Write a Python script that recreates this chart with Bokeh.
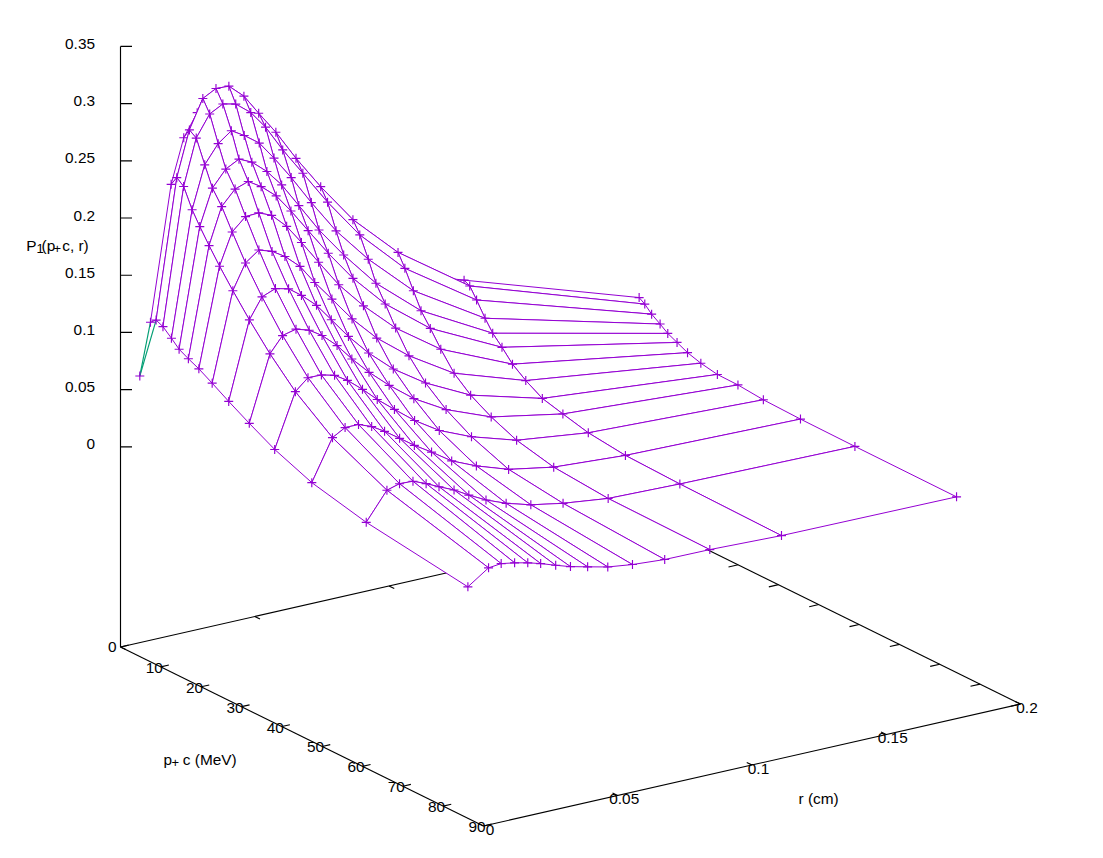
from bokeh.core.properties import value
from bokeh.embed import file_html
from bokeh.models import Range1d
from bokeh.plotting import figure
from bokeh.resources import INLINE

# ---- data ----
p_values = [4.7, 6.1, 7.8, 9.9, 11.8, 14.1, 16.7, 20.0, 24.1, 29.2, 35.5, 44.7, 58.2, 83.4]
r_values = [.0041, .0118, .0165, .0215, .0264, .0312, .0368, .0423, .0487, .0562, .0654, .0774, .0942, .1209, .1861]

P_00 = [.1149, .2313, .2695, .2888, .2973, .3008, .2917, .2756, .2556, .2306, .1994, .1633, .1105, .0894, .0394]
P_01 = [.1192, .2396, .2788, .3036, .3097, .3092, .2975, .2796, .2596, .2328, .2031, .1679, .1303, .0867, .0361]
P_02 = [.1164, .2348, .2746, .2930, .2991, .2965, .2861, .2704, .2471, .2227, .1925, .1575, .1193, .0774, .0303]
P_03 = [.1099, .2181, .2549, .2707, .2794, .2727, .2631, .2470, .2266, .2007, .1711, .1399, .1034, .0651, .0253]
P_04 = [.1036, .2067, .2378, .2518, .2579, .2527, .2415, .2269, .2054, .1801, .1533, .1222, .0892, .0553, .0204]
P_05 = [.0993, .1941, .2257, .2383, .2423, .2353, .2242, .2081, .1875, .1637, .1369, .1081, .0778, .0470, .0165]
P_06 = [.0950, .1806, .2080, .2188, .2194, .2147, .2021, .1851, .1644, .1407, .1174, .0915, .0641, .0368, .0121]
P_07 = [.0882, .1649, .1866, .1953, .1915, .1845, .1728, .1558, .1379, .1166, .0949, .0730, .0488, .0282, .0086]
P_08 = [.0794, .1465, .1641, .1687, .1659, .1576, .1459, .1304, .1124, .0939, .0750, .0564, .0368, .0197, .0059]
P_09 = [.0691, .1257, .1392, .1421, .1386, .1314, .1196, .1050, .0899, .0745, .0580, .0420, .0266, .0150, .0056]
P_10 = [.0572, .1036, .1133, .1130, .1101, .1031, .0923, .0805, .0684, .0547, .0411, .0292, .0172, .0095, .0036]
P_11 = [.0442, .0794, .0857, .0857, .0813, .0746, .0655, .0564, .0471, .0354, .0261, .0167, .0097, .0057, .0027]
P_12 = [.0330, .0569, .0601, .0596, .0549, .0496, .0438, .0364, .0287, .0218, .0156, .0105, .0058, .0042, .0023]
P_13 = [.0204, .0329, .0341, .0321, .0295, .0263, .0218, .0177, .0141, .0100, .0072, .0052, .0049, .0029, .0020]
P_rows = [P_00, P_01, P_02, P_03, P_04, P_05, P_06, P_07, P_08, P_09, P_10, P_11, P_12, P_13]

# the lone extra sample at the low-momentum corner (p, r, P)
extra_point = (2.06, .0041, .0633)

p_ticks = [0, 10, 20, 30, 40, 50, 60, 70, 80, 90]
r_ticks = [0, .05, .1, .15, .2]
z_ticks = [0, .05, .1, .15, .2, .25, .3, .35]
p_labels = ["0", "10", "20", "30", "40", "50", "60", "70", "80", "90"]
r_labels = ["0", "0.05", "0.1", "0.15", "0.2"]
z_labels = ["0", "0.05", "0.1", "0.15", "0.2", "0.25", "0.3", "0.35"]

P_MAX, R_MAX, Z_MAX = 90.0, 0.2, 0.35
PURPLE = "#9400D3"
TEAL = "#009E73"
FONT = value("Liberation Sans")
SIZE = "15.4px"
SUB = "13px"
LW = 1.15


# orthographic view of gnuplot's box: base corners on the page
def project(p_, r_, z_):
    x = 120 + 363.0 * p_ / P_MAX + 537.0 * r_ / R_MAX
    y = 646.5 + 179.0 * p_ / P_MAX - 122.0 * r_ / R_MAX
    return x, y - 200.2 - 400.4 * z_ / Z_MAX


def base(p_, r_):
    x = 120 + 363.0 * p_ / P_MAX + 537.0 * r_ / R_MAX
    y = 646.5 + 179.0 * p_ / P_MAX - 122.0 * r_ / R_MAX
    return x, y


fig = figure(width=1095, height=850, output_backend="svg", toolbar_location=None,
             x_range=Range1d(0, 1095), y_range=Range1d(850, 0),
             x_axis_location=None, y_axis_location=None,
             min_border=0, outline_line_color=None, background_fill_color="white")
fig.grid.visible = False


def seg(a, b, color="black"):
    fig.line([a[0], b[0]], [a[1], b[1]], line_color=color, line_width=LW)


# base box
seg(base(0, 0), base(0, R_MAX))
seg(base(0, 0), base(P_MAX, 0))
seg(base(0, R_MAX), base(P_MAX, R_MAX))
seg(base(P_MAX, 0), base(P_MAX, R_MAX))
# z axis
z_top = project(0, 0, Z_MAX)
seg(base(0, 0), z_top)
for z_ in z_ticks:
    a = project(0, 0, z_)
    seg(a, (a[0] + 11.5, a[1]))
# ticks
for p_ in p_ticks:
    a = base(p_, 0)
    seg(a, base(p_, 0.003))
    a = base(p_, R_MAX)
    seg(a, base(p_, R_MAX - 0.0036))
for r_ in r_ticks:
    a = base(P_MAX, r_)
    seg(a, base(P_MAX - 1.3, r_))
    a = base(0, r_)
    seg(a, base(1.3, r_))

# the underside (teal) sliver next to the first samples
ax, ay = project(*extra_point)
for k in (0, 1):
    b = project(p_values[k], r_values[0], P_rows[k][0])
    seg((ax, ay), b, TEAL)
fig.scatter([ax], [ay], marker="cross", size=9, line_color=PURPLE, line_width=LW)

# surface, painted from the far corner (low p, high r) to the near corner
pts = [[project(p_values[i], r_values[j], P_rows[i][j]) for j in range(len(r_values))]
       for i in range(len(p_values))]
ni, nj = len(p_values), len(r_values)
for i in range(ni - 1):
    for j in range(nj - 2, -1, -1):
        quad = [pts[i][j], pts[i + 1][j], pts[i + 1][j + 1], pts[i][j + 1]]
        fig.patch([q[0] for q in quad], [q[1] for q in quad], fill_color="white",
                  line_color=PURPLE, line_width=1)
        marks = []
        for a, b in ((i, j), (i + 1, j), (i + 1, j + 1), (i, j + 1)):
            last_a = min(a, ni - 2)
            last_b = max(b - 1, 0)
            if (i, j) == (last_a, last_b):
                marks.append(pts[a][b])
        if marks:
            fig.scatter([m[0] for m in marks], [m[1] for m in marks], marker="cross",
                        size=9, line_color=PURPLE, line_width=LW)


def label(x, y, s, align="left", baseline="alphabetic", size=SIZE):
    fig.text([x], [y], text=[s], text_font=FONT, text_font_size=value(size),
             text_color="black", text_align=align, text_baseline=baseline)


# tick labels
for z_, s in zip(z_ticks, z_labels):
    a = project(0, 0, z_)
    label(94.5, a[1] - 2.5, s, "right", "middle")
for p_, s in zip(p_ticks, p_labels):
    a = base(p_, 0)
    dx, dy = (-4, -0.5) if p_ == 0 else (2, 1)
    label(a[0] + dx, a[1] + dy, s, "right", "middle")
for r_, s in zip(r_ticks, r_labels):
    a = base(P_MAX, r_)
    label(a[0] + 6.5, a[1] + 3.5, s, "center", "middle")

# axis titles with subscripts
label(25.7, 244.5, "P")
label(36, 248, "1", size=SUB)
label(41, 244.5, "(p")
label(53, 248, "+", size=SUB)
label(61.7, 244.5, "c, r)")

label(163, 758.5, "p")
label(171, 762, "+", size=SUB)
label(182.3, 758.5, "c (MeV)")

label(798, 797.5, "r (cm)")

open("out.html", "w").write(file_html(fig, INLINE))
